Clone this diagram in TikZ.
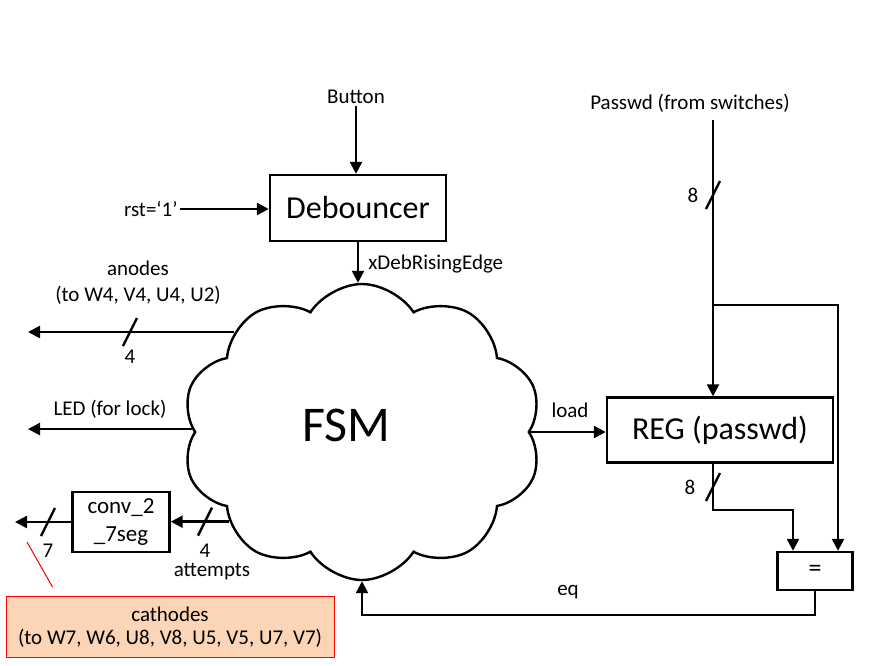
\documentclass[tikz,border=0pt]{standalone}
\usepackage{fontspec}
\setmainfont{Carlito}
\usepackage{tikz}
\usetikzlibrary{positioning}
\usetikzlibrary{shapes.symbols}
\usetikzlibrary{arrows.meta}

\definecolor{durazno}{RGB}{251,213,181}

\tikzset{
  caja/.style={draw, line width=1.2pt, inner sep=0pt, font=\fontsize{16}{19}\selectfont},
  etiq/.style={font=\fontsize{10.5}{13}\selectfont, align=center, inner sep=1pt},
  cable/.style={line width=1.2pt},
  flecha/.style={cable, -{Triangle[length=6pt,width=6pt]}},
}
\newcommand{\bus}[1]{\draw[cable] (#1) ++(-7,14) -- ++(14,-28);}

\begin{document}
\begin{tikzpicture}[x=0.5pt, y=-0.5pt]
  \useasboundingbox (0,0) rectangle (882,665);

  % Bloques
  \node[caja, minimum width=88pt, minimum height=33pt] (deb) at (358,208) {Debouncer};
  \node[cloud, cloud puffs=10, cloud puff arc=115, cloud ignores aspect, draw, line width=1.2pt,
        minimum width=180pt, minimum height=148pt] (fsm) at (362,432) {};
  \node[font=\fontsize{25}{30}\selectfont] (fsmtxt) at (346,425) {FSM};
  \node[caja, minimum width=113pt, minimum height=32.5pt] (reg) at (720,430) {REG (passwd)};
  \node[caja, font=\fontsize{11.5}{14}\selectfont, align=center, minimum width=48.5pt, minimum height=30pt] (conv) at (121,522) {conv\_2\\\_7seg};
  \node[caja, font=\fontsize{13}{15}\selectfont, minimum width=37.5pt, minimum height=19pt] (igual) at (815,571) {=};
  \node[etiq, draw=red, line width=0.5pt, fill=durazno, minimum width=164pt, minimum height=30.5pt,
        font=\fontsize{10.5}{11.5}\selectfont] (cath) at (170,627) {cathodes\\(to W7, W6, U8, V8, U5, V5, U7, V7)};

  % Etiquetas
  \node[etiq] (btn) at (356,97) {Button};
  \node[etiq, anchor=east] (rst) at (180,209) {rst=`1'};
  \node[etiq] (pw) at (690,103) {Passwd (from switches)};
  \node[etiq, anchor=west] (xdeb) at (366,264) {xDebRisingEdge};
  \node[etiq] (anod) at (138,283) {anodes\\(to W4, V4, U4, U2)};
  \node[etiq] (led) at (110,409) {LED (for lock)};
  \node[etiq] (load) at (570,410) {load};
  \node[etiq] (eq) at (568,592) {eq};
  \node[etiq] (n4a) at (130,357) {4};
  \node[etiq] (n4b) at (205,551) {4};
  \node[etiq] (att) at (212,572) {attempts};
  \node[etiq] (n7) at (48,551) {7};
  \node[etiq] (n8a) at (693,195) {8};
  \node[etiq] (n8b) at (690,487) {8};

  % Puntos libres
  \coordinate (anodout) at (28,326);
  \coordinate (ledout) at (28,428);
  \coordinate (cathout) at (15,521);
  \coordinate (pwin) at (713,120);
  \coordinate (split) at (713,305);
  \coordinate (regbend) at (713,510);
  \coordinate (nota) at (27,542);

  % Conexiones
  \draw[flecha] (btn.south) -- (btn.south |- deb.north);
  \draw[flecha] (rst.east) -- (deb.west |- rst.east);
  \draw[flecha] (deb.south) -- (deb.south |- fsm.north);
  \draw[flecha] (fsm.142) -- (fsm.142 -| anodout);
  \draw[flecha] (fsm.179) -- (fsm.179 -| ledout);
  \draw[flecha] (fsm.214) -- (fsm.214 -| conv.east);
  \draw[flecha] (conv.west) -- (conv.west -| cathout);
  \draw[flecha] (fsm.east) -- (fsm.east -| reg.west);
  \draw[flecha] (pwin) -- (pwin |- reg.north);
  \draw[flecha] (split) -| ([xshift=11.5pt]igual.north);
  \draw[flecha] (reg.south -| pwin) -- (regbend) -| ([xshift=-11pt]igual.north);
  \draw[flecha] (igual.south) -- ++(0,24) -| (fsm.south);
  \draw[red, line width=0.5pt] (nota) -- ([shift={(47,-9)}]cath.north west);

  % Marcas de bus
  \bus{n4a |- fsm.142}
  \bus{n4b |- fsm.214}
  \bus{n7 |- conv.west}
  \bus{pwin |- n8a}
  \bus{pwin |- n8b}
\end{tikzpicture}
\end{document}
